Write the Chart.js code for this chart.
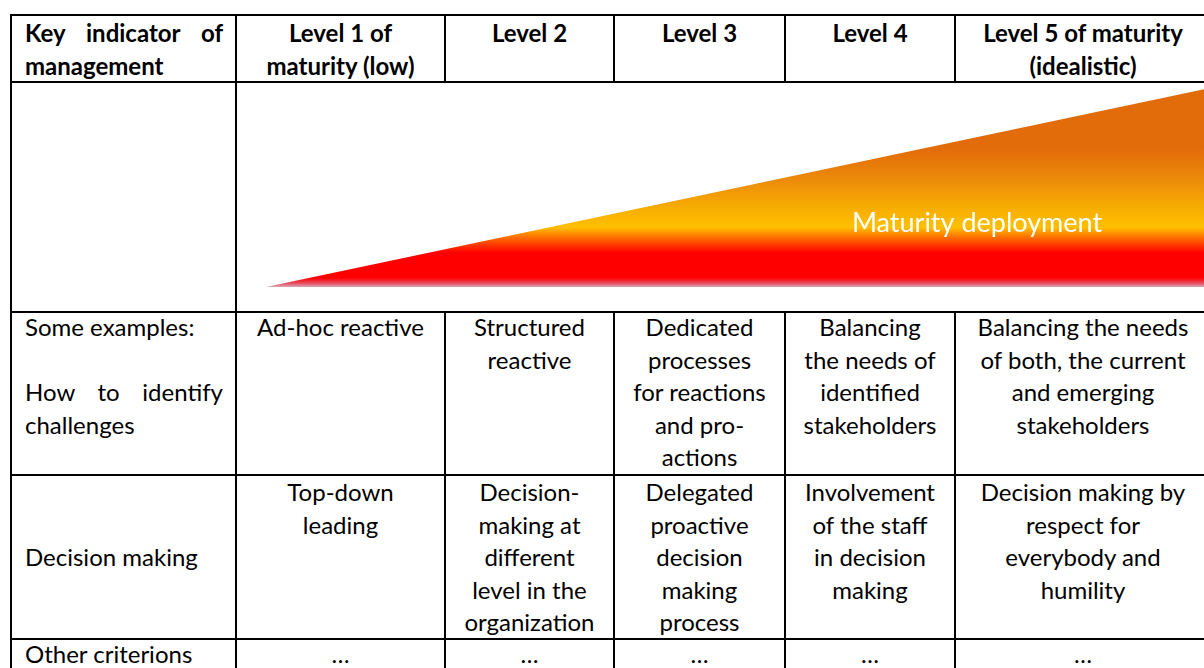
<!DOCTYPE html>
<html>
<head>
<meta charset="utf-8">
<title>Maturity levels</title>
<script src="https://cdn.jsdelivr.net/npm/chart.js@4"></script>
<style>
  body { margin: 0; width: 1204px; height: 668px; overflow: hidden; background: #fff; font-family: Lato, "Open Sans", sans-serif; }
  table { position: absolute; left: 10px; top: 14px; border-collapse: collapse; table-layout: fixed; width: 1200px; }
  td { border: 2px solid #000; padding: 0 10px; vertical-align: top; text-align: center;
       font-size: 24px; line-height: 32.5px; color: #000; }
  td > div { position: relative; top: -2px; margin-bottom: -4px; }
  tr.head td { font-weight: bold; line-height: 33px; }
  tr.head td > div { top: 0; }
  tr.dec td > div { top: 0; }
  td.first { text-align: left; padding-left: 13px; padding-right: 12px; }
  td.mid { vertical-align: middle; }
  td.chart { padding: 0; }
  .j { display: block; text-align: justify; text-align-last: justify; }
  #chart-box { position: relative; top: 0; margin-bottom: 0; height: 228px; width: 100%; }
</style>
</head>
<body>
<table id="grid"></table>

<script>
// colonnes du tableau
const levels = ['Level 1 of\nmaturity (low)', 'Level 2', 'Level 3', 'Level 4', 'Level 5 of maturity\n(idealistic)'];
const keyHeader = ['Key indicator of', 'management'];

// progression de la maturité (triangle)
const deployment = [0, 25, 50, 75, 100];
const chartLabel = 'Maturity deployment';
const labelAt = { index: 3, value: 32 };

// lignes du tableau
const examplesKey = ['Some examples:', '', 'How to identify', 'challenges'];
const examples = [
  'Ad-hoc reactive',
  'Structured\nreactive',
  'Dedicated\nprocesses\nfor reactions\nand pro-\nactions',
  'Balancing\nthe needs of\nidentified\nstakeholders',
  'Balancing the needs\nof both, the current\nand emerging\nstakeholders'
];
const decisionKey = 'Decision making';
const decisions = [
  'Top-down\nleading',
  'Decision-\nmaking at\ndifferent\nlevel in the\norganization',
  'Delegated\nproactive\ndecision\nmaking\nprocess',
  'Involvement\nof the staff\nin decision\nmaking',
  'Decision making by\nrespect for\neverybody and\nhumility'
];
const otherKey = 'Other criterions';
const others = ['…', '…', '…', '…', '…'];

const colWidths = [225, 209, 169, 171, 170, 256];

function lines(txt) {
  return '<div>' + txt.split('\n').map(s => s === '' ? '&nbsp;' : s).join('<br>') + '</div>';
}

// construire le tableau
const grid = document.getElementById('grid');
let html = '<colgroup>' + colWidths.map(w => `<col style="width:${w}px">`).join('') + '</colgroup>';
html += '<tr class="head" style="height:67px">'
  + `<td class="first"><div><span class="j">${keyHeader[0]}</span>${keyHeader[1]}</div></td>`
  + levels.map(l => `<td>${lines(l)}</td>`).join('') + '</tr>';
html += '<tr style="height:230px"><td class="first"></td>'
  + '<td class="chart" colspan="5"><div id="chart-box"><canvas id="maturity"></canvas></div></td></tr>';
html += '<tr style="height:163px"><td class="first"><div>'
  + examplesKey.map(s => s === 'How to identify' ? `<span class="j">${s}</span>` : (s || '&nbsp;') + '<br>').join('')
  + '</div></td>' + examples.map(e => `<td>${lines(e)}</td>`).join('') + '</tr>';
html += '<tr class="dec" style="height:164px"><td class="first mid">' + decisionKey + '</td>'
  + decisions.map(d => `<td>${lines(d)}</td>`).join('') + '</tr>';
html += '<tr style="height:40px"><td class="first">' + lines(otherKey) + '</td>'
  + others.map(o => `<td>${lines(o)}</td>`).join('') + '</tr>';
grid.innerHTML = html;

// Dégradé vertical du triangle
function triangleGradient(context) {
  const chart = context.chart;
  const area = chart.chartArea;
  if (!area) return '#FF0000';
  const g = chart.ctx.createLinearGradient(0, area.top, 0, area.bottom);
  g.addColorStop(0.00, '#E36C0A');
  g.addColorStop(0.31, '#E36C0A');
  g.addColorStop(0.46, '#EC8B0A');
  g.addColorStop(0.60, '#F7AC02');
  g.addColorStop(0.70, '#FFC000');
  g.addColorStop(0.75, '#FF7000');
  g.addColorStop(0.80, '#FF2800');
  g.addColorStop(0.83, '#FF0000');
  g.addColorStop(0.955, '#FF0000');
  g.addColorStop(0.98, '#E8485E');
  g.addColorStop(1.00, '#D8A8B4');
  return g;
}

const labelPlugin = {
  id: 'deployLabel',
  afterDatasetsDraw(chart) {
    const { ctx, scales } = chart;
    ctx.save();
    ctx.fillStyle = '#fff';
    ctx.font = '27px Lato, "Open Sans", sans-serif';
    ctx.textAlign = 'center';
    ctx.textBaseline = 'middle';
    ctx.fillText(chartLabel, scales.x.getPixelForValue(labelAt.index) + 3, scales.y.getPixelForValue(labelAt.value));
    ctx.restore();
  }
};

new Chart(document.getElementById('maturity'), {
  type: 'line',
  data: {
    labels: levels.map(l => l.replace('\n', ' ')),
    datasets: [{
      label: chartLabel,
      data: deployment,
      fill: 'origin',
      backgroundColor: triangleGradient,
      borderWidth: 0,
      pointRadius: 0,
      tension: 0
    }]
  },
  options: {
    responsive: true,
    maintainAspectRatio: false,
    animation: false,
    layout: { padding: { left: 29, right: 0, top: 5, bottom: 24 } },
    plugins: { legend: { display: false }, tooltip: { enabled: false } },
    scales: {
      x: { display: false, offset: false },
      y: { display: false, min: 0, max: 100 }
    }
  },
  plugins: [labelPlugin]
});
</script>
</body>
</html>
